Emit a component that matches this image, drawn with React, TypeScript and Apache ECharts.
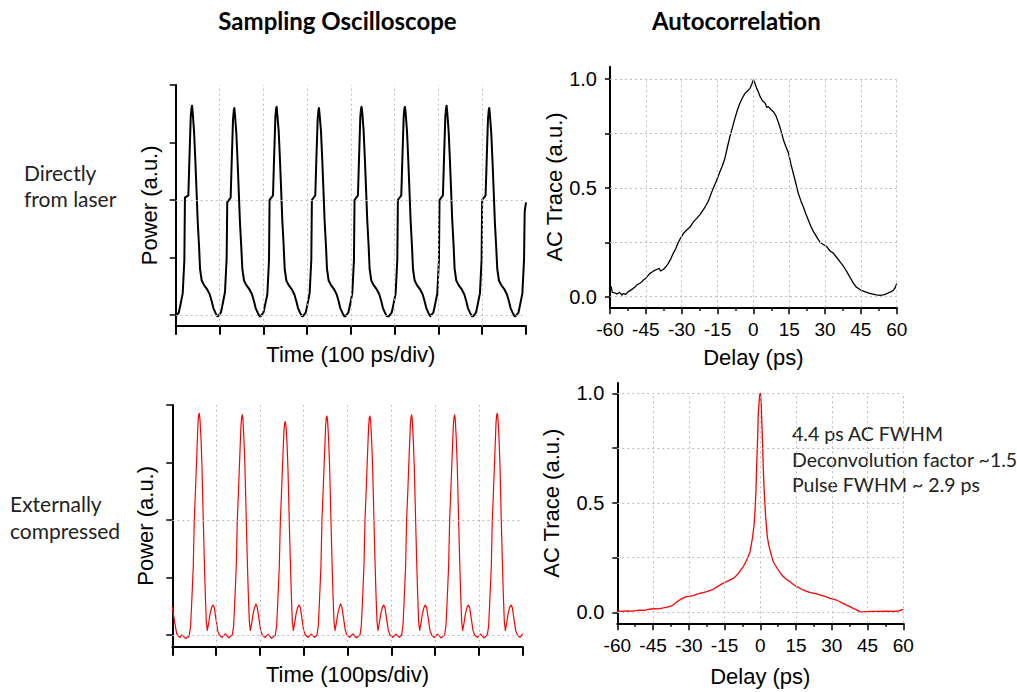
import React, { useEffect, useRef } from "react";
import * as echarts from "echarts";

// ---------- texts ----------
const panelTitles = ["Sampling Oscilloscope", "Autocorrelation"];
const rowLabels = [["Directly", "from laser"], ["Externally", "compressed"]];
const annotationLines = ["4.4 ps AC FWHM", "Deconvolution factor ~1.5", "Pulse FWHM ~ 2.9 ps"];
const scopeXTitles = ["Time (100 ps/div)", "Time (100ps/div)"];
const acXTitle = "Delay (ps)";
const scopeYTitle = "Power (a.u.)";
const acYTitle = "AC Trace (a.u.)";

// ---------- ticks / grid values ----------
const scopeTimeGrid = [100, 200, 300, 400, 500, 600, 700];
const scopePowerTicks = [0, 0.25, 0.5, 0.75, 1];
const scopePowerGrid = [0, 0.5];
const acTraceTicks = [0, 0.25, 0.5, 0.75, 1];
const acTraceLabels = [0, 0.5, 1];
const acTraceGrid = [0, 0.25, 0.5, 0.75, 1];
const acDelayGrid = [-45, -30, -15, 0, 15, 30, 45, 60];

// ---------- data: sampling oscilloscope, directly from laser (t in ps, power a.u.) ----------
const scopeDirect: number[][] = [
  [0, -0.007],
  [0.8, -0.005], [6.9, 0.01], [9.9, 0.036], [16.0, 0.094], [19.8, 0.24], [21.1, 0.51], [28.9, 0.52], [31.2, 0.67], [34.3, 0.86], [36.1, 0.9], [37.3, 0.91], [38.8, 0.88], [41.9, 0.8], [44.9, 0.67], [48.0, 0.52], [50.2, 0.41], [53.3, 0.3], [55.6, 0.2], [59.4, 0.15], [64.7, 0.13], [72.3, 0.11], [77.6, 0.09], [82.2, 0.06], [86.0, 0.03], [90.6, 0.01], [95.1, -0.005],
  [97.4, -0.004], [103.5, 0.012], [106.5, 0.04], [112.6, 0.1], [116.4, 0.25], [117.7, 0.49], [125.5, 0.51], [127.8, 0.66], [130.9, 0.85], [132.7, 0.89], [133.9, 0.9], [135.4, 0.87], [138.5, 0.79], [141.5, 0.66], [144.6, 0.51], [146.8, 0.4], [149.9, 0.29], [152.2, 0.2], [156.0, 0.15], [161.3, 0.13], [168.9, 0.11], [174.2, 0.09], [178.8, 0.06], [182.6, 0.03], [187.2, 0.01], [191.7, -0.006],
  [194.1, -0.005], [200.2, 0.01], [203.2, 0.035], [209.3, 0.09], [213.1, 0.24], [214.4, 0.5], [222.2, 0.52], [224.5, 0.67], [227.6, 0.86], [229.4, 0.9], [230.6, 0.905], [232.1, 0.87], [235.2, 0.8], [238.2, 0.67], [241.3, 0.52], [243.5, 0.41], [246.6, 0.3], [248.9, 0.2], [252.7, 0.15], [258.0, 0.13], [265.6, 0.11], [270.9, 0.09], [275.5, 0.06], [279.3, 0.03], [283.9, 0.01], [288.4, -0.005],
  [290.7, -0.005], [296.8, 0.01], [299.8, 0.036], [305.9, 0.095], [309.7, 0.24], [311.0, 0.5], [318.8, 0.52], [321.1, 0.67], [324.2, 0.85], [326.0, 0.89], [327.2, 0.9], [328.7, 0.87], [331.8, 0.8], [334.8, 0.67], [337.9, 0.52], [340.1, 0.41], [343.2, 0.3], [345.5, 0.2], [349.3, 0.15], [354.6, 0.13], [362.2, 0.11], [367.5, 0.09], [372.1, 0.06], [375.9, 0.03], [380.5, 0.01], [385.0, -0.005],
  [388.1, -0.005], [394.2, 0.01], [397.2, 0.036], [403.3, 0.094], [407.1, 0.24], [408.4, 0.5], [416.2, 0.52], [418.5, 0.67], [421.6, 0.86], [423.4, 0.9], [424.6, 0.905], [426.1, 0.88], [429.2, 0.8], [432.2, 0.67], [435.3, 0.52], [437.5, 0.41], [440.6, 0.3], [442.9, 0.2], [446.7, 0.15], [452.0, 0.13], [459.6, 0.11], [464.9, 0.09], [469.5, 0.06], [473.3, 0.03], [477.9, 0.01], [482.4, -0.005],
  [487.1, -0.005], [493.2, 0.01], [496.2, 0.036], [502.3, 0.094], [506.1, 0.24], [507.4, 0.5], [515.2, 0.52], [517.5, 0.67], [520.6, 0.86], [522.4, 0.9], [523.6, 0.905], [525.1, 0.88], [528.2, 0.8], [531.2, 0.67], [534.3, 0.52], [536.5, 0.41], [539.6, 0.3], [541.9, 0.2], [545.7, 0.15], [551.0, 0.13], [558.6, 0.11], [563.9, 0.09], [568.5, 0.06], [572.3, 0.03], [576.9, 0.01], [581.4, -0.005],
  [582.2, -0.005], [588.3, 0.01], [591.3, 0.036], [597.4, 0.094], [601.2, 0.24], [602.5, 0.5], [610.3, 0.52], [612.6, 0.67], [615.7, 0.86], [617.5, 0.9], [618.7, 0.91], [620.2, 0.88], [623.3, 0.8], [626.3, 0.67], [629.4, 0.52], [631.6, 0.41], [634.7, 0.3], [637.0, 0.2], [640.8, 0.15], [646.1, 0.13], [653.7, 0.11], [659.0, 0.09], [663.6, 0.06], [667.4, 0.03], [672.0, 0.01], [676.5, -0.005],
  [679.6, -0.005], [685.7, 0.01], [688.7, 0.036], [694.8, 0.094], [698.6, 0.24], [699.9, 0.5], [707.7, 0.52], [710.0, 0.66], [713.1, 0.85], [714.9, 0.89], [716.1, 0.9], [717.6, 0.87], [720.7, 0.79], [723.7, 0.66], [726.8, 0.51], [729.0, 0.4], [732.1, 0.29], [734.4, 0.2], [738.2, 0.15], [743.5, 0.13], [751.1, 0.11], [756.4, 0.09], [761.0, 0.06], [764.8, 0.03], [769.4, 0.01], [773.9, -0.005],
  [776.5, -0.005], [782.6, 0.01], [785.6, 0.036], [791.7, 0.094], [795.5, 0.24], [797.0, 0.45], [800, 0.49],
];

// ---------- data: sampling oscilloscope, externally compressed ----------
const scopeCompressed: number[][] = [
  [0, 0.123], [4.6, 0.065], [9.9, 0.007], [13.7, -0.005], [17.5, -0.01], [21.3, 0.0], [25.1, -0.004], [28.2, -0.012], [31.2, -0.015], [34.2, -0.008], [36.5, -0.01],
  [38.8, 0.0], [41.8, 0.04], [44.1, 0.13], [47.9, 0.3], [50.2, 0.5], [53.2, 0.64], [55.5, 0.76], [58.6, 0.92], [60.1, 0.955], [61.6, 0.964], [63.1, 0.94], [65.4, 0.86], [67.7, 0.74], [70.7, 0.5], [73.0, 0.33], [75.3, 0.18], [77.6, 0.06], [79.9, 0.02], [82.9, 0.05], [86.0, 0.09], [89.8, 0.12], [92.8, 0.13], [95.8, 0.12], [99.7, 0.07], [103.5, 0.02], [107.3, 0.0], [113.3, -0.01], [121.0, 0.005], [128.6, -0.012], [133.9, -0.004],
  [137.0, 0.0], [140.0, 0.04], [142.3, 0.13], [146.1, 0.3], [148.4, 0.5], [151.4, 0.64], [153.7, 0.76], [156.8, 0.91], [158.3, 0.945], [159.8, 0.957], [161.3, 0.935], [163.6, 0.85], [165.9, 0.73], [168.9, 0.5], [171.2, 0.33], [173.5, 0.18], [175.8, 0.06], [178.1, 0.02], [181.1, 0.05], [184.2, 0.09], [188.0, 0.12], [191.0, 0.135], [194.0, 0.12], [197.9, 0.07], [201.7, 0.02], [205.5, 0.0], [211.5, -0.01], [219.2, 0.003], [226.8, -0.015], [232.1, -0.005],
  [235.2, 0.0], [238.2, 0.04], [240.5, 0.13], [244.3, 0.3], [246.6, 0.49], [249.6, 0.63], [251.9, 0.75], [255.0, 0.89], [256.5, 0.92], [258.0, 0.928], [259.5, 0.91], [261.8, 0.84], [264.1, 0.72], [267.1, 0.49], [269.4, 0.33], [271.7, 0.18], [274.0, 0.06], [276.3, 0.02], [279.3, 0.05], [282.4, 0.09], [286.2, 0.12], [289.2, 0.13], [292.2, 0.12], [296.1, 0.07], [299.9, 0.02], [303.7, 0.0], [309.7, -0.01], [317.4, 0.004], [325.0, -0.01],
  [330.3, 0.0], [333.3, 0.04], [335.6, 0.13], [339.4, 0.3], [341.7, 0.5], [344.7, 0.64], [347.0, 0.76], [350.1, 0.91], [351.6, 0.945], [353.1, 0.952], [354.6, 0.93], [356.9, 0.85], [359.2, 0.73], [362.2, 0.5], [364.5, 0.33], [366.8, 0.18], [369.1, 0.06], [371.4, 0.02], [374.4, 0.05], [377.5, 0.09], [381.3, 0.12], [384.3, 0.135], [387.3, 0.12], [391.2, 0.07], [395.0, 0.02], [398.8, 0.0], [404.8, -0.01], [412.5, 0.005], [420.1, -0.012], [425.4, -0.004],
  [428.5, 0.0], [431.5, 0.04], [433.8, 0.13], [437.6, 0.3], [439.9, 0.5], [442.9, 0.64], [445.2, 0.76], [448.3, 0.91], [449.8, 0.945], [451.3, 0.952], [452.8, 0.93], [455.1, 0.85], [457.4, 0.73], [460.4, 0.5], [462.7, 0.33], [465.0, 0.18], [467.3, 0.06], [469.6, 0.02], [472.6, 0.05], [475.7, 0.09], [479.5, 0.12], [482.5, 0.13], [485.5, 0.12], [489.4, 0.07], [493.2, 0.02], [497.0, 0.0], [503.0, -0.01], [510.7, 0.003], [518.3, -0.01],
  [523.6, 0.0], [526.6, 0.04], [528.9, 0.13], [532.7, 0.3], [535.0, 0.5], [538.0, 0.64], [540.3, 0.76], [543.4, 0.91], [544.9, 0.945], [546.4, 0.957], [547.9, 0.935], [550.2, 0.85], [552.5, 0.73], [555.5, 0.5], [557.8, 0.33], [560.1, 0.18], [562.4, 0.06], [564.7, 0.02], [567.7, 0.05], [570.8, 0.09], [574.6, 0.12], [577.6, 0.13], [580.6, 0.12], [584.5, 0.07], [588.3, 0.02], [592.1, 0.0], [598.1, -0.01], [605.8, 0.004], [613.4, -0.013], [618.7, -0.005],
  [621.8, 0.0], [624.8, 0.04], [627.1, 0.13], [630.9, 0.3], [633.2, 0.5], [636.2, 0.64], [638.5, 0.76], [641.6, 0.91], [643.1, 0.945], [644.6, 0.957], [646.1, 0.935], [648.4, 0.85], [650.7, 0.73], [653.7, 0.5], [656.0, 0.33], [658.3, 0.18], [660.6, 0.06], [662.9, 0.02], [665.9, 0.05], [669.0, 0.09], [672.8, 0.12], [675.8, 0.13], [678.8, 0.12], [682.7, 0.07], [686.5, 0.02], [690.3, 0.0], [696.3, -0.01], [704.0, 0.004], [711.6, -0.012], [716.9, -0.004],
  [719.2, 0.0], [722.2, 0.04], [724.5, 0.13], [728.3, 0.3], [730.6, 0.5], [733.6, 0.64], [735.9, 0.76], [739.0, 0.92], [740.5, 0.955], [742.0, 0.964], [743.5, 0.94], [745.8, 0.86], [748.1, 0.74], [751.1, 0.5], [753.4, 0.33], [755.7, 0.18], [758.0, 0.06], [760.3, 0.02], [763.3, 0.05], [766.4, 0.09], [770.2, 0.12], [773.2, 0.13], [776.2, 0.12], [780.1, 0.07], [783.9, 0.02], [787.7, 0.0], [793.7, -0.01], [800, 0.005],
];

// ---------- data: autocorrelation, directly from laser (delay ps, AC trace) ----------
const acDirect: number[][] = [
  [-60, 0.03], [-59.5, 0.045], [-59, 0.02], [-58, 0.018], [-57, 0.012], [-56, 0.02], [-55, 0.008], [-54.4, 0.015], [-53.5, 0.01], [-52.5, 0.022], [-51.6, 0.028], [-50.5, 0.036], [-49.5, 0.045], [-48.8, 0.054], [-47.5, 0.062], [-46.5, 0.07], [-46, 0.077], [-45, 0.085], [-44, 0.098], [-43.3, 0.107], [-42.5, 0.112], [-41.5, 0.12], [-40.5, 0.125], [-39.5, 0.13], [-38.8, 0.118], [-37.7, 0.125], [-36.8, 0.135], [-35.6, 0.153], [-34.5, 0.175], [-33.5, 0.2], [-32.5, 0.22], [-31.4, 0.25], [-30.5, 0.268], [-29.3, 0.29], [-28, 0.305], [-26.5, 0.32], [-25, 0.345], [-23.7, 0.36], [-22.5, 0.375], [-20.9, 0.4], [-19.8, 0.42], [-18.8, 0.44], [-17.8, 0.47], [-16.7, 0.5], [-15.5, 0.53], [-14, 0.574], [-13, 0.6], [-11.9, 0.636], [-10.8, 0.69], [-9.8, 0.735], [-8.7, 0.78], [-7.7, 0.82], [-6.6, 0.86], [-5.6, 0.89], [-4.5, 0.915], [-3.5, 0.934], [-2.5, 0.945], [-1.4, 0.957], [-0.7, 0.975], [0, 0.995], [0.5, 0.985], [1.4, 0.957], [2.1, 0.94], [2.8, 0.92], [3.8, 0.9], [4.9, 0.89], [5.6, 0.87], [6.3, 0.873], [7.3, 0.86], [8.4, 0.85], [9.5, 0.83], [10.5, 0.8], [11.5, 0.765], [12.6, 0.72], [13.6, 0.69], [14.7, 0.66], [15.7, 0.61], [16.7, 0.567], [17.8, 0.52], [18.8, 0.475], [19.9, 0.44], [20.9, 0.413], [22, 0.38], [23, 0.352], [24, 0.325], [25.1, 0.3], [26.5, 0.275], [27.9, 0.25], [29.3, 0.24], [30.7, 0.23], [32.1, 0.21], [33.5, 0.2], [34.9, 0.18], [36.3, 0.16], [37.7, 0.14], [39.1, 0.115], [40.5, 0.088], [41.9, 0.061], [43, 0.045], [44, 0.038], [45, 0.03], [46, 0.026], [47.5, 0.02], [48.8, 0.015], [50, 0.012], [51.6, 0.008], [53, 0.006], [54.4, 0.008], [55.5, 0.012], [56.5, 0.018], [57.5, 0.022], [58.6, 0.03], [59.3, 0.04], [60, 0.06],
];

// ---------- data: autocorrelation, externally compressed ----------
const acCompressed: number[][] = [
  [-60, 0.006], [-58, 0.004], [-56.1, 0.007], [-54, 0.005], [-52, 0.008], [-50.5, 0.01], [-48.5, 0.009], [-46.5, 0.014], [-44.9, 0.017], [-43, 0.016], [-40.7, 0.02], [-39, 0.024], [-37.2, 0.029], [-35.8, 0.04], [-34.4, 0.053], [-32.5, 0.065], [-30.9, 0.072], [-29.5, 0.074], [-28.1, 0.076], [-26.7, 0.082], [-25.3, 0.087], [-24, 0.09], [-22.5, 0.094], [-21, 0.1], [-19.7, 0.105], [-18.3, 0.115], [-16.9, 0.125], [-15.5, 0.133], [-14.1, 0.14], [-12.7, 0.148], [-11.3, 0.155], [-10.2, 0.166], [-9.2, 0.178], [-8.1, 0.195], [-7.1, 0.209], [-5.7, 0.239], [-4.3, 0.277], [-3.2, 0.345], [-2.6, 0.4], [-2.2, 0.467], [-1.8, 0.56], [-1.5, 0.68], [-1.1, 0.8], [-0.84, 0.909], [-0.5, 0.96], [-0.28, 0.99], [0, 1.0], [0.2, 0.985], [0.42, 0.94], [0.7, 0.85], [0.98, 0.756], [1.25, 0.66], [1.54, 0.574], [1.9, 0.5], [2.24, 0.437], [2.6, 0.39], [2.94, 0.345], [3.5, 0.31], [4.06, 0.285], [4.8, 0.255], [5.45, 0.231], [6.3, 0.215], [7.13, 0.2], [8.4, 0.18], [9.65, 0.163], [11, 0.15], [12.4, 0.14], [13.8, 0.128], [15.2, 0.117], [16.6, 0.11], [18, 0.102], [19.4, 0.096], [20.8, 0.091], [22.2, 0.088], [23.6, 0.084], [25, 0.08], [26.4, 0.075], [27.8, 0.07], [29.2, 0.064], [30.6, 0.06], [32, 0.056], [33.4, 0.048], [34.8, 0.041], [36.2, 0.033], [37.6, 0.026], [39, 0.018], [40.4, 0.011], [41.8, 0.003], [43, 0.002], [44.6, 0.003], [47, 0.004], [50.2, 0.004], [53, 0.005], [55.8, 0.004], [58, 0.006], [59, 0.01], [60, 0.014],
];

// ---------- layout ----------
const AXIS_FONT = "Liberation Sans";
const TEXT_FONT = "Lato";
const GRID_COLOR = "#bdbdbd";

const grids = [
  { left: 175.7, top: 85, width: 350.3, height: 240.7 },
  { left: 610, top: 66.7, width: 286.7, height: 240.6 },
  { left: 172.3, top: 405, width: 350.4, height: 241.7 },
  { left: 617.3, top: 383, width: 286, height: 240.3 },
];
const yRanges = [
  [-0.0465, 1],
  [-0.0487, 1.0565],
  [-0.0509, 1],
  [-0.0502, 1.047],
];

const axisLine = { onZero: false, lineStyle: { color: "#000", width: 2 } };
const nameStyle = { fontFamily: AXIS_FONT, fontSize: 22, color: "#000" };
const gridLineStyle = { color: GRID_COLOR, width: 1, type: [2, 3] as any };

function scopeXAxis(gridIndex: number, name: string, nameGap: number) {
  return {
    type: "value", gridIndex, min: 0, max: 800, interval: 100,
    axisLine, axisTick: { show: true, inside: false, length: 9, lineStyle: { color: "#000", width: 2 } },
    axisLabel: { show: false }, splitLine: { show: false },
    name, nameLocation: "middle", nameGap, nameTextStyle: nameStyle,
  };
}
function acXAxis(gridIndex: number, nameGap: number) {
  return {
    type: "value", gridIndex, min: -60, max: 60, interval: 15,
    axisLine, axisTick: { show: true, inside: false, length: 7, lineStyle: { color: "#000", width: 1.5 } },
    minorTick: { show: true, splitNumber: 2, length: 3.5, lineStyle: { color: "#000", width: 1.5 } },
    axisLabel: { show: true, fontFamily: AXIS_FONT, fontSize: 19, color: "#000", margin: 13 },
    splitLine: { show: false }, minorSplitLine: { show: false },
    name: acXTitle, nameLocation: "middle", nameGap, nameTextStyle: nameStyle,
  };
}
function scopeYAxis(gridIndex: number, nameGap: number) {
  const [min, max] = yRanges[gridIndex];
  return {
    type: "value", gridIndex, min, max,
    axisLine, axisTick: { show: true, inside: false, length: 6, customValues: scopePowerTicks, lineStyle: { color: "#000", width: 1.5 } },
    axisLabel: { show: false }, splitLine: { show: false },
    name: scopeYTitle, nameLocation: "middle", nameGap, nameTextStyle: nameStyle,
  };
}
function acYAxis(gridIndex: number, nameGap: number) {
  const [min, max] = yRanges[gridIndex];
  return {
    type: "value", gridIndex, min, max,
    axisLine, axisTick: { show: true, inside: false, length: 5, customValues: acTraceTicks, lineStyle: { color: "#000", width: 1.5 } },
    axisLabel: {
      show: true, customValues: acTraceLabels, fontFamily: AXIS_FONT, fontSize: 20, color: "#000", margin: 13,
      formatter: (v: number) => v.toFixed(1),
    },
    splitLine: { show: false },
    name: acYTitle, nameLocation: "middle", nameGap, nameTextStyle: nameStyle,
  };
}

function scopeMarkLine(gridIndex: number) {
  const yMin = yRanges[gridIndex][0];
  return {
    silent: true, symbol: ["none", "none"], label: { show: false }, emphasis: { disabled: true },
    lineStyle: gridLineStyle, animation: false,
    data: [
      ...scopePowerGrid.map((v) => ({ yAxis: v })),
      ...scopeTimeGrid.map((t) => [{ coord: [t, yMin] }, { coord: [t, 1] }]),
    ],
  };
}
function acMarkLine(gridIndex: number) {
  const yMin = yRanges[gridIndex][0];
  return {
    silent: true, symbol: ["none", "none"], label: { show: false }, emphasis: { disabled: true },
    lineStyle: gridLineStyle, animation: false,
    data: [
      ...acTraceGrid.map((v) => ({ yAxis: v })),
      ...acDelayGrid.map((d) => [{ coord: [d, yMin] }, { coord: [d, 1] }]),
    ],
  };
}

function lineSeries(idx: number, data: number[][], color: string, width: number, markLine: any) {
  return {
    type: "line", xAxisIndex: idx, yAxisIndex: idx, data,
    showSymbol: false, symbol: "none", smooth: false,
    lineStyle: { color, width, join: "round" }, emphasis: { disabled: true },
    markLine, z: 3,
  };
}

function textEl(text: string, x: number, y: number, size: number, weight: string, align: string, fill: string) {
  return {
    type: "text", x, y, silent: true,
    style: {
      text, fontFamily: TEXT_FONT, fontSize: size, fontWeight: weight, fill,
      textAlign: align, textVerticalAlign: "middle", align, verticalAlign: "middle",
    },
  };
}

function buildOption() {
  return {
    animation: false,
    backgroundColor: "#ffffff",
    grid: grids.map((g) => ({ ...g, containLabel: false, outerBoundsMode: "none", show: false })),
    xAxis: [
      scopeXAxis(0, scopeXTitles[0], 18),
      acXAxis(1, 39),
      scopeXAxis(2, scopeXTitles[1], 17),
      acXAxis(3, 42),
    ],
    yAxis: [scopeYAxis(0, 15), acYAxis(1, 41), scopeYAxis(2, 16), acYAxis(3, 55)],
    series: [
      lineSeries(0, scopeDirect, "#000000", 2, scopeMarkLine(0)),
      lineSeries(1, acDirect, "#000000", 1.3, acMarkLine(1)),
      lineSeries(2, scopeCompressed, "#ff0000", 1.2, scopeMarkLine(2)),
      lineSeries(3, acCompressed, "#ff0000", 1.3, acMarkLine(3)),
    ],
    graphic: [
      textEl(panelTitles[0], 337.5, 20, 24, "bold", "center", "#000"),
      textEl(panelTitles[1], 736.3, 20, 24, "bold", "center", "#000"),
      textEl(rowLabels[0][0], 24, 172, 21, "normal", "left", "#222"),
      textEl(rowLabels[0][1], 24, 198, 21, "normal", "left", "#222"),
      textEl(rowLabels[1][0], 10, 503, 21, "normal", "left", "#222"),
      textEl(rowLabels[1][1], 10, 530, 21, "normal", "left", "#222"),
      textEl(annotationLines[0], 792, 433, 19.5, "normal", "left", "#222"),
      textEl(annotationLines[1], 792, 459, 19.5, "normal", "left", "#222"),
      textEl(annotationLines[2], 792, 484, 19.5, "normal", "left", "#222"),
    ],
  };
}

export default function App() {
  const ref = useRef<HTMLDivElement>(null);
  useEffect(() => {
    if (!ref.current) return;
    const chart = echarts.init(ref.current, null, { renderer: "svg" });
    chart.setOption(buildOption() as any);
    return () => chart.dispose();
  }, []);
  return (
    <div
      ref={ref}
      style={{ position: "fixed", left: 0, top: 0, width: 1017, height: 692, background: "#fff" }}
    />
  );
}
